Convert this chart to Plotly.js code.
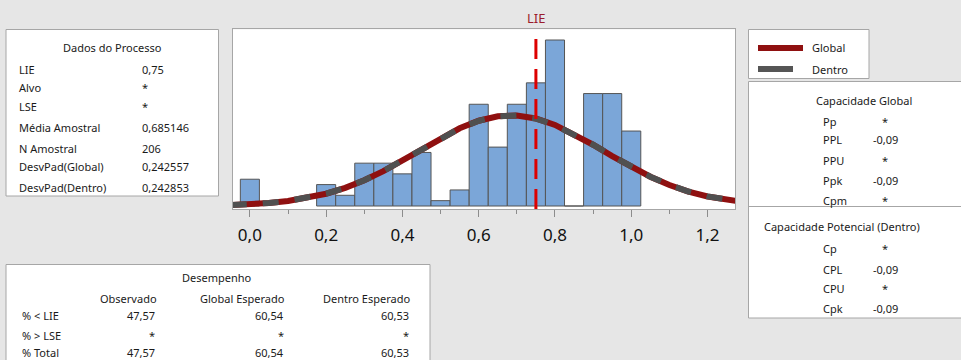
<!DOCTYPE html>
<html><head><meta charset="utf-8">
<script src="https://cdn.plot.ly/plotly-3.0.1.min.js"></script>
<style>html,body{margin:0;padding:0;background:#e6e6e6}#chart{width:961px;height:360px}</style>
</head><body><div id="chart"></div>
<script>
// ---- Data ----
const binCenters = [0.00, 0.20, 0.25, 0.30, 0.35, 0.40, 0.45, 0.50, 0.55, 0.60, 0.65, 0.70, 0.75, 0.80, 0.85, 0.90, 0.95, 1.00];
const binCounts  = [5, 4, 2, 8, 8, 6, 10, 1, 3, 19, 11, 19, 23, 31, 0, 21, 21, 14];
const binWidth = 0.05;

const curveX = [-0.05,0.00,0.05,0.10,0.15,0.20,0.25,0.30,0.35,0.40,0.45,0.50,0.55,0.60,0.65,0.70,0.75,0.80,0.85,0.90,0.95,1.00,1.05,1.10,1.15,1.20,1.25,1.30];
const curveGlobal = [0.171,0.314,0.550,0.923,1.486,2.292,3.389,4.802,6.522,8.489,10.589,12.660,14.505,15.929,16.764,16.909,16.346,15.144,13.447,11.444,9.333,7.295,5.465,3.924,2.700,1.781,1.125,0.682];
const curveWithin = [0.173,0.317,0.554,0.928,1.493,2.300,3.398,4.811,6.529,8.493,10.588,12.653,14.493,15.912,16.744,16.888,16.327,15.129,13.438,11.441,9.335,7.301,5.473,3.933,2.709,1.789,1.131,0.686];

const LIE = 0.75;
const tickVals = [0.0, 0.2, 0.4, 0.6, 0.8, 1.0, 1.2];
const tickText = ['0,0', '0,2', '0,4', '0,6', '0,8', '1,0', '1,2'];

const processLabels = ['LIE', 'Alvo', 'LSE', 'Média Amostral', 'N Amostral', 'DesvPad(Global)', 'DesvPad(Dentro)'];
const processValues = ['0,75', '*', '*', '0,685146', '206', '0,242557', '0,242853'];

const globalCapLabels = ['Pp', 'PPL', 'PPU', 'Ppk', 'Cpm'];
const globalCapValues = ['*', '-0,09', '*', '-0,09', '*'];
const withinCapLabels = ['Cp', 'CPL', 'CPU', 'Cpk'];
const withinCapValues = ['*', '-0,09', '*', '-0,09'];

const perfHeaders = ['Observado', 'Global Esperado', 'Dentro Esperado'];
const perfRows = ['% < LIE', '% > LSE', '% Total'];
const perfObserved = ['47,57', '*', '47,57'];
const perfGlobal = ['60,54', '*', '60,54'];
const perfWithin = ['60,53', '*', '60,53'];

// ---- Layout helpers (pixel -> paper) ----
const W = 961, H = 360;
const X = p => p / W;
const Y = p => 1 - p / H;
const FONT = 'Noto Sans';
const TXT = '#1a1a1a';

const annotations = [];
function txt(x, y, text, anchor, size, color) {
  annotations.push({xref:'paper', yref:'paper', x:X(x), y:Y(y), text:text, showarrow:false,
    xanchor:anchor||'left', yanchor:'middle', font:{family:FONT, size:size||11, color:color||TXT}});
}
const shapes = [];
function box(x0, y0, x1, y1) {
  shapes.push({type:'rect', xref:'paper', yref:'paper', x0:X(x0), x1:X(x1), y0:Y(y1), y1:Y(y0),
    fillcolor:'#ffffff', line:{color:'#a6a6a6', width:1}, layer:'below'});
}

// Process data panel
box(6, 29.5, 218.5, 196);
txt(112, 48, 'Dados do Processo', 'center');
const procY = [69, 87, 106, 127, 148, 166, 187];
processLabels.forEach((l, i) => { txt(17, procY[i], l); txt(140, procY[i], processValues[i]); });

// Legend panel
box(748.5, 29.5, 869, 78.5);
shapes.push({type:'line', xref:'paper', yref:'paper', x0:X(758), x1:X(803), y0:Y(48), y1:Y(48), line:{color:'#8f1010', width:6}});
shapes.push({type:'line', xref:'paper', yref:'paper', x0:X(758), x1:X(793), y0:Y(69), y1:Y(69), line:{color:'#555555', width:6}});
txt(810, 48, 'Global'); txt(810, 69, 'Dentro');

// Capability panel
box(748.5, 81.5, 962, 318);
shapes.push({type:'line', xref:'paper', yref:'paper', x0:X(748.5), x1:X(961), y0:Y(206.5), y1:Y(206.5), line:{color:'#a6a6a6', width:1}});
txt(864, 100, 'Capacidade Global', 'center');
const gY = [121, 139, 160, 180, 200];
globalCapLabels.forEach((l, i) => { txt(821, gY[i], l); txt(885, gY[i], globalCapValues[i], 'center'); });
txt(762, 226, 'Capacidade Potencial (Dentro)');
const wY = [248, 269, 288, 308];
withinCapLabels.forEach((l, i) => { txt(821, wY[i], l); txt(885, wY[i], withinCapValues[i], 'center'); });

// Performance panel
box(6, 264.5, 430, 362);
txt(217, 277, 'Desempenho', 'center');
const colRight = [159, 287, 412];
perfHeaders.forEach((h, i) => txt(colRight[i], 298, h, 'right'));
const rY = [315, 335, 352.5];
perfRows.forEach((r, i) => {
  txt(20, rY[i], r);
  txt(colRight[0] - 2, rY[i], perfObserved[i], 'right');
  txt(colRight[1] - 1, rY[i], perfGlobal[i], 'right');
  txt(colRight[2] - 1, rY[i], perfWithin[i], 'right');
});

// LIE line and label
shapes.push({type:'line', xref:'x', yref:'y domain', x0:LIE, x1:LIE, y0:0, y1:1,
  line:{color:'#dd0000', width:3, dash:'20px,10px'}, layer:'above'});
annotations.push({xref:'x', yref:'paper', x:LIE, y:Y(17.5), text:'LIE', showarrow:false,
  xanchor:'center', yanchor:'middle', font:{family:FONT, size:13, color:'#9b1c2c'}});

const traces = [
  {type:'bar', x:binCenters, y:binCounts, width:binWidth,
   marker:{color:'#7ba6d8', line:{color:'#555555', width:1}}, hoverinfo:'skip'},
  {type:'scatter', mode:'lines', x:curveX, y:curveGlobal,
   line:{color:'#8f1010', width:6}, hoverinfo:'skip'},
  {type:'scatter', mode:'lines', x:curveX, y:curveWithin,
   line:{color:'#505050', width:6, dash:'16px,16px'}, hoverinfo:'skip'}
];

const layout = {
  width: W, height: H,
  margin: {l:0, r:0, t:0, b:0, pad:0},
  paper_bgcolor: '#e6e6e6', plot_bgcolor: '#ffffff',
  separators: ',.',
  showlegend: false,
  bargap: 0,
  xaxis: {
    domain: [232.7 / W, 735 / W], range: [-0.045, 1.272],
    tickmode: 'array', tickvals: tickVals, ticktext: tickText,
    ticks: 'outside', ticklen: 7, tickcolor: '#8c8c8c', tickwidth: 1,
    minor: {tickmode:'array', tickvals:[0.1,0.3,0.5,0.7,0.9,1.1], ticks:'outside', ticklen:4, tickcolor:'#8c8c8c', showgrid:false},
    showline: true, linecolor: '#a6a6a6', linewidth: 1, mirror: true,
    showgrid: false, zeroline: false,
    tickfont: {family: FONT, size: 17, color: '#111111'},
    ticklabelstandoff: 4
  },
  yaxis: {
    domain: [1 - 209 / H, 1 - 29.3 / H], range: [-0.56, 33.0],
    showticklabels: false, ticks: '', showgrid: false, zeroline: false,
    showline: true, linecolor: '#a6a6a6', linewidth: 1, mirror: true
  },
  shapes: shapes,
  annotations: annotations
};

Plotly.newPlot('chart', traces, layout, {displayModeBar: false, staticPlot: true});
</script></body></html>
